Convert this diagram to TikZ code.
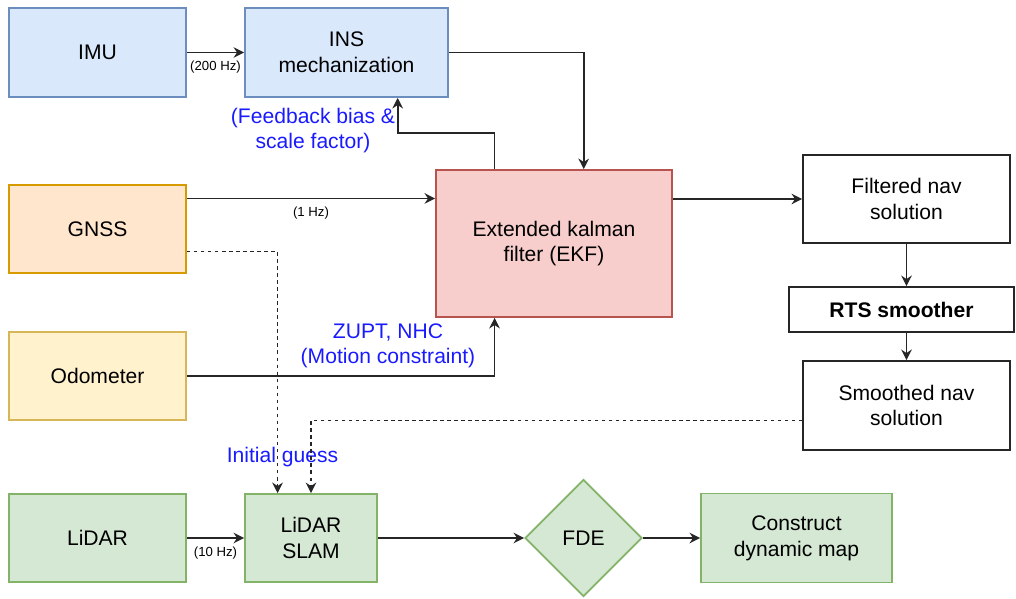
\documentclass[tikz,border=0pt]{standalone}
\usepackage{fontspec}
\setmainfont{Liberation Sans}
\usetikzlibrary{shapes.geometric,calc,arrows.meta}
\definecolor{imufill}{HTML}{DAE8FC}
\definecolor{imuline}{HTML}{6C8EBF}
\definecolor{gnssfill}{HTML}{FFE6CC}
\definecolor{gnssline}{HTML}{D79B00}
\definecolor{odofill}{HTML}{FFF2CC}
\definecolor{odoline}{HTML}{D6B656}
\definecolor{lidfill}{HTML}{D5E8D4}
\definecolor{lidline}{HTML}{82B366}
\definecolor{ekffill}{HTML}{F8CECC}
\definecolor{ekfline}{HTML}{B85450}
\definecolor{remarkblue}{HTML}{1A1AFF}
\tikzstyle{blk} = [rectangle, draw, align=center, inner sep=2pt, line width=1pt, font=\fontsize{12}{14.7}\selectfont]
\tikzstyle{imublk} = [blk, draw=imuline, fill=imufill]
\tikzstyle{gnssblk} = [blk, draw=gnssline, fill=gnssfill]
\tikzstyle{odoblk} = [blk, draw=odoline, fill=odofill]
\tikzstyle{lidblk} = [blk, draw=lidline, fill=lidfill]
\tikzstyle{ekfblk} = [blk, draw=ekfline, fill=ekffill]
\tikzstyle{navblk} = [blk, draw=black!85, fill=white]
\tikzstyle{rate} = [inner sep=0pt, font=\fontsize{7.5}{9}\selectfont]
\tikzstyle{remark} = [align=center, inner sep=0pt, text=remarkblue, font=\fontsize{12}{14.2}\selectfont]
\tikzstyle{guess} = [dash pattern=on 2pt off 2pt]

\begin{document}
\begin{tikzpicture}[->,>={Stealth[length=6pt,width=6pt]},line width=1pt,draw=black!85,x=0.02cm,y=-0.02cm]
  \useasboundingbox (0,0) rectangle (1016,598);

  \node[imublk, minimum width=3.54cm, minimum height=1.78cm] (IMU) at (97.5,52.5) {IMU};
  \node[imublk, minimum width=4.06cm, minimum height=1.78cm] (INS) at (346.5,52.5) {INS\\mechanization};
  \node[gnssblk, minimum width=3.54cm, minimum height=1.76cm] (GNSS) at (97.5,229) {GNSS};
  \node[odoblk, minimum width=3.54cm, minimum height=1.76cm] (Odo) at (97.5,376) {Odometer};
  \node[lidblk, minimum width=3.54cm, minimum height=1.76cm] (LiDAR) at (97.5,538) {LiDAR};
  \node[lidblk, minimum width=2.64cm, minimum height=1.76cm] (SLAM) at (311,538) {LiDAR\\SLAM};
  \node[lidblk, diamond, shape aspect=1, minimum size=2.34cm, inner sep=0pt] (FDE) at (583.5,538) {FDE};
  \node[lidblk, minimum width=3.82cm, minimum height=1.78cm] (Map) at (796.5,538) {Construct\\dynamic map};
  \node[ekfblk, minimum width=4.72cm, minimum height=2.94cm] (EKF) at (554,243.5) {Extended kalman\\filter (EKF)};
  \node[navblk, minimum width=4.14cm, minimum height=1.76cm] (Filt) at (906.5,199) {Filtered nav\\solution};
  \node[navblk, minimum width=4.5cm, minimum height=0.9cm, font=\fontsize{12}{14.7}\selectfont\bfseries] (RTS) at (901.5,309.5) {RTS smoother};
  \node[navblk, minimum width=4.14cm, minimum height=1.78cm] (Smooth) at (906.5,405.5) {Smoothed nav\\solution};

  \node[remark] (fbklbl) at (313,130.5) {(Feedback bias \&\\scale factor)};
  \node[remark] (zupt) at (388,345.5) {ZUPT, NHC\\(Motion constraint)};
  \node[remark] (guesslbl) at (282.5,457) {Initial guess};

  \coordinate (fbkturn) at (0,133);
  \coordinate (fbkout) at ($(EKF.north west)!0.5!(EKF.north)$);
  \coordinate (fbkin) at ($(INS.south)!0.5!(INS.south east)$);
  \coordinate (gnssout) at ($(GNSS.east)!0.68!(GNSS.north east)$);

  \path (IMU) edge node[rate, below=4.5pt] {(200 Hz)} (INS);
  \path (LiDAR) edge node[rate, below=4.5pt] {(10 Hz)} (SLAM);
  \path (SLAM) edge (FDE);
  \path (FDE) edge (Map);
  \draw (gnssout) -- node[rate, below=4.5pt] {(1 Hz)} (gnssout -| EKF.west);
  \draw (INS.east) -| ($(EKF.north)!0.25!(EKF.north east)$);
  \draw (fbkout) -- (fbkout |- fbkturn) -| (fbkin);
  \draw (Odo.east) -| ($(EKF.south west)!0.5!(EKF.south)$);
  \draw (EKF.east |- Filt.west) -- (Filt.west);
  \draw (Filt.south) -- (Filt.south |- RTS.north);
  \draw (Smooth.north |- RTS.south) -- (Smooth.north);
  \draw[guess] ($(GNSS.east)!0.5!(GNSS.south east)$) -| ($(SLAM.north west)!0.5!(SLAM.north)$);
  \draw[guess] ($(Smooth.west)!0.33!(Smooth.south west)$) -| (SLAM.north);
\end{tikzpicture}
\end{document}
